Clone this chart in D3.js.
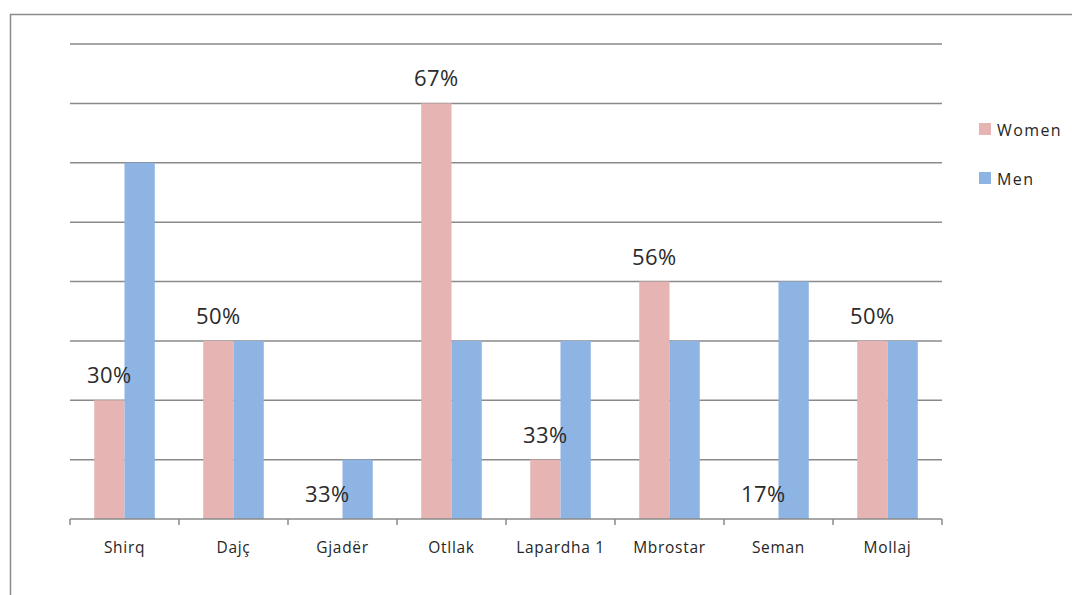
<!DOCTYPE html>
<html>
<head>
<meta charset="utf-8">
<script src="https://cdn.jsdelivr.net/npm/d3@7"></script>
<style>
  html, body { margin: 0; padding: 0; background: #fff; }
  svg { display: block; }
  text { font-family: "Open Sans", "DejaVu Sans", sans-serif; }
</style>
</head>
<body>
<svg id="chart" width="1072" height="595"></svg>
<script>
const categories = ["Shirq", "Dajç", "Gjadër", "Otllak", "Lapardha 1", "Mbrostar", "Seman", "Mollaj"];
const seriesNames = ["Women", "Men"];
const women = [2, 3, 0, 7, 1, 4, 0, 3];
const men = [6, 3, 1, 3, 3, 3, 4, 3];
const womenLabels = ["30%", "50%", "33%", "67%", "33%", "56%", "17%", "50%"];
const yTicks = [1, 2, 3, 4, 5, 6, 7, 8];

const colors = { Women: "#e6b4b3", Men: "#8db4e2" };

const svg = d3.select("#chart");

// outer frame (top and left edges visible)
svg.append("path")
  .attr("d", "M10.5,595 L10.5,14.5 L1072,14.5")
  .attr("fill", "none").attr("stroke", "#8c8c8c").attr("stroke-width", 1.5);

const x0 = d3.scaleBand().domain(categories).range([70, 942]).padding(0);
const x1 = d3.scaleBand().domain(seriesNames).range([0, x0.bandwidth()]).paddingInner(0).paddingOuter(0.8);
const y = d3.scaleLinear().domain([0, 8]).range([519, 44]);

// gridlines
svg.append("g").selectAll("line").data(yTicks).join("line")
  .attr("x1", 70).attr("x2", 942)
  .attr("y1", d => y(d)).attr("y2", d => y(d))
  .attr("stroke", "#8a8a8a").attr("stroke-width", 1.5);

// bars
const rows = categories.map((c, i) => ({ cat: c, Women: women[i], Men: men[i], label: womenLabels[i] }));
const g = svg.append("g");
const groups = g.selectAll("g").data(rows).join("g")
  .attr("transform", d => `translate(${x0(d.cat)},0)`);
groups.selectAll("rect").data(d => seriesNames.map(s => ({ s, v: d[s] }))).join("rect")
  .attr("x", d => x1(d.s))
  .attr("width", x1.bandwidth())
  .attr("y", d => y(d.v))
  .attr("height", d => y(0) - y(d.v))
  .attr("fill", d => colors[d.s]);

// x axis
const ax = svg.append("g").attr("transform", `translate(0,${y(0)})`);
ax.append("line").attr("x1", 70).attr("x2", 942).attr("y1", 0).attr("y2", 0)
  .attr("stroke", "#8a8a8a").attr("stroke-width", 1.5);
const tickPos = categories.map(c => x0(c)).concat([x0.range()[1]]);
ax.selectAll("line.tk").data(tickPos).join("line").attr("class", "tk")
  .attr("x1", d => d).attr("x2", d => d).attr("y1", 0).attr("y2", 6)
  .attr("stroke", "#8a8a8a").attr("stroke-width", 1.5);
ax.selectAll("text.cl").data(categories).join("text").attr("class", "cl")
  .attr("x", d => x0(d) + x0.bandwidth() / 2)
  .attr("y", 34)
  .attr("text-anchor", "middle")
  .attr("font-size", 15.5)
  .attr("letter-spacing", 0.7)
  .attr("fill", "#262626")
  .text(d => d);

// data labels over women bars
groups.append("text")
  .attr("x", x1("Women") + x1.bandwidth() / 2)
  .attr("y", d => y(d.Women) - 17)
  .attr("text-anchor", "middle")
  .attr("font-size", 22)
  .attr("letter-spacing", 0.5)
  .attr("fill", "#2b2b2b")
  .text(d => d.label);

// legend
const legend = svg.append("g").selectAll("g").data(seriesNames).join("g")
  .attr("transform", (d, i) => `translate(979,${123 + i * 49})`);
legend.append("rect").attr("width", 12).attr("height", 12).attr("fill", d => colors[d]);
legend.append("text").attr("x", 18).attr("y", 12.5)
  .attr("font-size", 16).attr("letter-spacing", 1.4).attr("fill", "#262626")
  .text(d => d);
</script>
</body>
</html>
